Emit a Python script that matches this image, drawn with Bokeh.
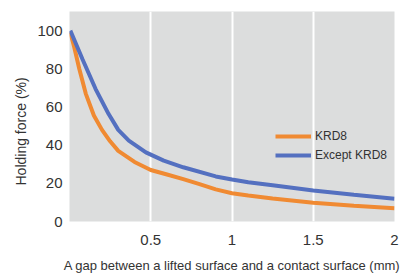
from bokeh.plotting import figure
from bokeh.models import Range1d, FixedTicker, Legend, LegendItem, Title
from bokeh.embed import file_html
from bokeh.resources import INLINE

# Data
gap_krd8 = [0.005, 0.03, 0.06, 0.1, 0.15, 0.2, 0.25, 0.3, 0.4, 0.5, 0.6, 0.7, 0.8, 0.9, 1.0, 1.1, 1.25, 1.5, 1.75, 2.0]
force_krd8 = [99, 91, 80, 67, 55.5, 48, 42, 37, 31.2, 27, 24.6, 22.2, 19.6, 16.8, 14.8, 13.6, 12, 9.8, 8.3, 7.0]

gap_other = [0.005, 0.08, 0.16, 0.24, 0.3, 0.365, 0.47, 0.58, 0.7, 0.9, 1.0, 1.1, 1.25, 1.5, 1.75, 2.0]
force_other = [100, 85, 69.5, 56.4, 48, 42.4, 36.2, 31.9, 28.4, 23.6, 22, 20.6, 19, 16.2, 14, 11.9]

x_ticks = [0.5, 1, 1.5, 2]
y_ticks = [0, 20, 40, 60, 80, 100]
series_names = ["KRD8", "Except KRD8"]
x_title = "A gap between a lifted surface and a contact surface (mm)"
y_title = "Holding force  (%)"

FONT = "Liberation Sans"
TXT = "#333333"

p = figure(width=406, height=275, output_backend="svg", toolbar_location=None,
           x_range=Range1d(0, 2), y_range=Range1d(0, 110),
           min_border_left=69, min_border_right=12, min_border_top=11, min_border_bottom=54)
p.background_fill_color = "#dcdddd"
p.border_fill_color = "white"
p.outline_line_color = None

p.ygrid.grid_line_color = None
p.xgrid.grid_line_color = "white"
p.xgrid.grid_line_width = 2
p.xgrid.ticker = FixedTicker(ticks=[0.5, 1, 1.5])

for ax in (p.xaxis[0], p.yaxis[0]):
    ax.axis_line_color = None
    ax.major_tick_line_color = None
    ax.minor_tick_line_color = None
    ax.major_tick_out = 0
    ax.major_tick_in = 0
    ax.major_label_text_font = FONT
    ax.major_label_text_font_size = "15px"
    ax.major_label_text_color = TXT
    ax.axis_label_text_font = FONT
    ax.axis_label_text_font_style = "normal"
    ax.axis_label_text_color = TXT

p.xaxis.ticker = FixedTicker(ticks=x_ticks)
p.yaxis.ticker = FixedTicker(ticks=y_ticks)
p.xaxis.major_label_standoff = 13
p.yaxis.major_label_standoff = 7
p.xaxis.axis_label = x_title
p.xaxis.axis_label_text_font_size = "13px"
p.xaxis.axis_label_standoff = 10

# y-axis title as a side title, anchored from the bottom like the reference
p.add_layout(Title(text=y_title, align="left", vertical_align="middle", offset=36,
                   standoff=10, text_font=FONT, text_font_size="14px",
                   text_font_style="normal", text_color=TXT), "left")

r1 = p.line(gap_krd8, force_krd8, line_color="#f08a32", line_width=4)
r2 = p.line(gap_other, force_other, line_color="#5470c0", line_width=4)

legend = Legend(items=[LegendItem(label=series_names[0], renderers=[r1]),
                       LegendItem(label=series_names[1], renderers=[r2])],
                location=(206, 57), background_fill_alpha=0, border_line_color=None,
                label_text_font=FONT, label_text_font_size="12px", label_text_color=TXT,
                glyph_width=36, glyph_height=18, label_height=18, label_standoff=4,
                spacing=1, padding=0, margin=0)
p.add_layout(legend, "center")

open("out.html", "w").write(file_html(p, INLINE))
